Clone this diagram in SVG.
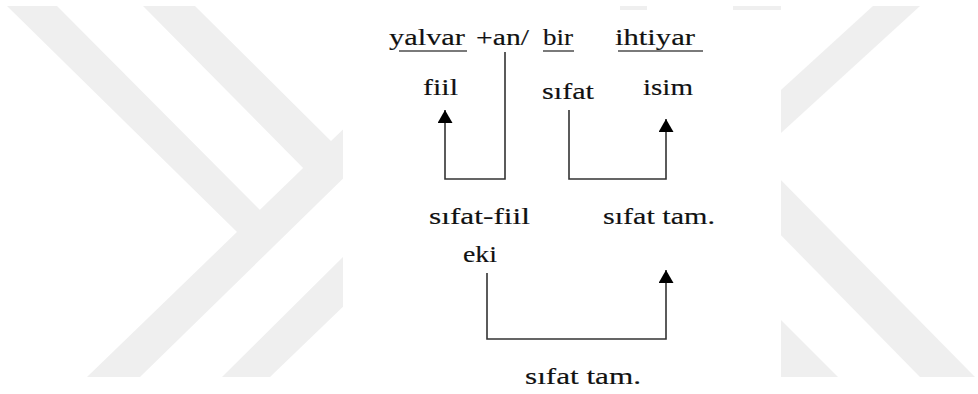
<svg xmlns="http://www.w3.org/2000/svg" width="978" height="394" viewBox="0 0 978 394">
<style>
.wm{fill:#efefef;stroke:none}
.t{font-family:"Liberation Serif","DejaVu Serif",serif;font-size:23px;fill:#111;stroke:#111;stroke-width:0.15}
.ul{stroke:#7a7a7a;stroke-width:2;fill:none}
.c{stroke:#333;stroke-width:1.6;fill:none}
</style>
<defs>
<marker id="ah" markerUnits="userSpaceOnUse" viewBox="0 0 13 15" markerWidth="13" markerHeight="15" refX="13" refY="7.5" orient="auto">
<path d="M0,0 L13,7.5 L0,15 z" fill="#000"/>
</marker>
</defs>
<rect x="0" y="0" width="978" height="394" fill="#fff"/>
<g id="watermark">
<polygon class="wm" points="87,377 140,377 360,162 360,113"/>
<polygon class="wm" points="7,6 57,6 282,232 237,232"/>
<polygon class="wm" points="143,6 195,6 345,155 310,175"/>
<polygon class="wm" points="222,377 270,377 350,300 350,250"/>
<polygon class="wm" points="873,6 920,6 770,143 770,100"/>
<polygon class="wm" points="770,169 975,377 920,377 770,224"/>
<polygon class="wm" points="770,309 838,377 770,377"/>
<rect class="wm" x="620" y="6" width="27" height="6"/>
<rect class="wm" x="733" y="6" width="48" height="6"/>
<rect x="343" y="10" width="438" height="384" fill="#fff"/>
</g>
<g id="n-yalvar"><text class="t" x="389" y="45" textLength="76" lengthAdjust="spacingAndGlyphs">yalvar</text><line class="ul" x1="399" y1="51" x2="467" y2="51"/></g>
<g id="n-an"><text class="t" x="476" y="45" textLength="53" lengthAdjust="spacingAndGlyphs">+an/</text></g>
<g id="n-bir"><text class="t" x="543" y="45" textLength="30" lengthAdjust="spacingAndGlyphs">bir</text><line class="ul" x1="543" y1="51" x2="574" y2="51"/></g>
<g id="n-ihtiyar"><text class="t" x="615" y="45" textLength="80" lengthAdjust="spacingAndGlyphs">ihtiyar</text><line class="ul" x1="618" y1="51" x2="703" y2="51"/></g>
<g id="n-fiil"><text class="t" x="423" y="95" textLength="35" lengthAdjust="spacingAndGlyphs">fiil</text></g>
<g id="n-sifat"><text class="t" x="542" y="99" textLength="52" lengthAdjust="spacingAndGlyphs">sıfat</text></g>
<g id="n-isim"><text class="t" x="643" y="95" textLength="50" lengthAdjust="spacingAndGlyphs">isim</text></g>
<g id="n-sifatfiil"><text class="t" x="429" y="224" textLength="101" lengthAdjust="spacingAndGlyphs">sıfat-fiil</text><text class="t" x="463" y="262" textLength="34" lengthAdjust="spacingAndGlyphs">eki</text></g>
<g id="n-sifattam1"><text class="t" x="603" y="224" textLength="112" lengthAdjust="spacingAndGlyphs">sıfat tam.</text></g>
<g id="n-sifattam2"><text class="t" x="525" y="384" textLength="116" lengthAdjust="spacingAndGlyphs">sıfat tam.</text></g>
<g id="connectors">
<path class="c" d="M505,52 V179 H445 V110" marker-end="url(#ah)"/>
<path class="c" d="M569,110 V179 H666 V119" marker-end="url(#ah)"/>
<path class="c" d="M487,273 V339 H666 V270" marker-end="url(#ah)"/>
</g>
</svg>
